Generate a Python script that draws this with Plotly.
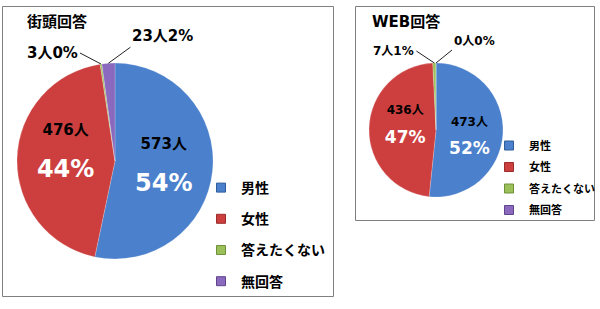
import math
import plotly.graph_objects as go

# ---- data ----
categories = ["男性", "女性", "答えたくない", "無回答"]
street_counts = [573, 476, 3, 23]
street_pct = [54, 44, 0, 2]
web_counts = [473, 436, 7, 0]
web_pct = [52, 47, 1, 0]
titles = ["街頭回答", "WEB回答"]

colors = ["#4A80CC", "#CD3F3F", "#9BC05A", "#8B69BE"]
edge_colors = ["#2F5D9A", "#9A2C2C", "#6F8F3A", "#5E4589"]
FONT = "DejaVu Sans, Noto Sans CJK JP, sans-serif"
W, H = 600, 309

# pie geometry (pixels): centre and radius
L = dict(cx=115, cy=161, r=98)
R = dict(cx=436, cy=130, r=67)


def domain(g):
    return dict(x=[(g["cx"] - g["r"]) / W, (g["cx"] + g["r"]) / W],
                y=[1 - (g["cy"] + g["r"]) / H, 1 - (g["cy"] - g["r"]) / H])


def inside_texts(counts, pct, s1, s2, pads):
    # pads: per slice (lead_size, trail_size) of an invisible padding line (0 = none)
    out = []
    for (n, p), (lead, trail) in zip(zip(counts, pct), pads):
        t = ""
        if lead:
            t += f"<span style='font-size:{lead}px'>\u00a0</span><br>"
        t += (f"<span style='font-size:{s1}px'>{n}人</span><br><br>"
              f"<span style='font-size:{s2}px;color:white'>{p}%</span>")
        if trail:
            t += f"<br><span style='font-size:{trail}px'>\u00a0</span>"
        out.append(t)
    return out


def edge_point(g, counts, idx):
    tot = sum(counts)
    start = sum(counts[:idx]) / tot * 360
    mid = start + counts[idx] / tot * 360 / 2
    a = math.radians(mid)
    px = g["cx"] + g["r"] * math.sin(a)
    py = g["cy"] - g["r"] * math.cos(a)
    return px / W, 1 - py / H


fig = go.Figure()

fig.add_trace(go.Pie(
    labels=categories, values=street_counts, sort=False, direction="clockwise",
    rotation=0, domain=domain(L), showlegend=False,
    text=inside_texts(street_counts, street_pct, 15, 24, [(0, 0), (0, 1), (0, 0), (0, 0)]),
    textinfo="text",
    textposition=["inside", "inside", "none", "none"],
    insidetextorientation="horizontal",
    insidetextfont=dict(family=FONT, size=16, color="black", weight="bold"),
    marker=dict(colors=colors, line=dict(color="rgba(255,255,255,0.4)", width=0.5)),
    hoverinfo="label+value",
))
fig.add_trace(go.Pie(
    labels=categories, values=web_counts, sort=False, direction="clockwise",
    rotation=0, domain=domain(R), showlegend=False,
    text=inside_texts(web_counts, web_pct, 12, 17, [(6, 0), (0, 1), (0, 0), (0, 0)]),
    textinfo="text",
    textposition=["inside", "inside", "none", "none"],
    insidetextorientation="horizontal",
    insidetextfont=dict(family=FONT, size=11, color="black", weight="bold"),
    marker=dict(colors=colors, line=dict(color="rgba(255,255,255,0.4)", width=0.5)),
    hoverinfo="label+value",
))

# legends via marker-only traces
for li, leg in enumerate(["legend", "legend2"]):
    for i, c in enumerate(categories):
        fig.add_trace(go.Scatter(
            x=[None], y=[None], mode="markers", name=c,
            marker=dict(symbol="square", size=9, color=colors[i],
                        line=dict(color=edge_colors[i], width=1)),
            legend=leg, legendgroup=f"{leg}{i}", showlegend=True,
            hoverinfo="skip",
        ))

annotations = []
# titles
annotations.append(dict(text=f"<b>{titles[0]}</b>", x=25 / W, y=1 - 22 / H, xref="paper", yref="paper",
                        xanchor="left", yanchor="middle", showarrow=False,
                        font=dict(family=FONT, size=15, color="black")))
annotations.append(dict(text=f"<b>{titles[1]}</b>", x=370 / W, y=1 - 22 / H, xref="paper", yref="paper",
                        xanchor="left", yanchor="middle", showarrow=False,
                        font=dict(family=FONT, size=15, color="black")))

small = [
    (L, street_counts, street_pct, 2, "right", "middle", -21, -11, 15),
    (L, street_counts, street_pct, 3, "left", "bottom", 22, -16, 15),
    (R, web_counts, web_pct, 2, "right", "middle", -18, -12, 12),
    (R, web_counts, web_pct, 3, "left", "bottom", 16, -13, 12),
]
for g, counts, pct, idx, xa, ya, ax, ay, fs in small:
    x, y = edge_point(g, counts, idx)
    annotations.append(dict(
        text=f"<b>{counts[idx]}人{pct[idx]}%</b>", x=x, y=y, xref="paper", yref="paper",
        showarrow=True, arrowhead=0, arrowwidth=1, arrowcolor="#222222",
        ax=ax, ay=ay, xanchor=xa, yanchor=ya,
        font=dict(family=FONT, size=fs, color="black"),
    ))

shapes = [
    dict(type="rect", xref="paper", yref="paper", x0=2.5 / W, x1=333.5 / W,
         y0=1 - 296.5 / H, y1=1 - 6.5 / H, line=dict(color="#7F7F7F", width=1)),
    dict(type="rect", xref="paper", yref="paper", x0=355.5 / W, x1=594.5 / W,
         y0=1 - 220.5 / H, y1=1 - 6.5 / H, line=dict(color="#7F7F7F", width=1)),
]

fig.update_layout(
    width=W, height=H, margin=dict(l=0, r=0, t=0, b=0),
    paper_bgcolor="white", plot_bgcolor="rgba(0,0,0,0)",
    xaxis=dict(visible=False), yaxis=dict(visible=False),
    annotations=annotations, shapes=shapes,
    legend=dict(x=201 / W, y=1 - 172 / H, xanchor="left", yanchor="top",
                font=dict(family=FONT, size=14, color="black", weight="bold"),
                tracegroupgap=10, traceorder="grouped", bgcolor="rgba(0,0,0,0)"),
    legend2=dict(x=489 / W, y=1 - 131 / H, xanchor="left", yanchor="top",
                 font=dict(family=FONT, size=11, color="black", weight="bold"),
                 tracegroupgap=2.5, traceorder="grouped", bgcolor="rgba(0,0,0,0)"),
)

fig.write_html("out.html")
